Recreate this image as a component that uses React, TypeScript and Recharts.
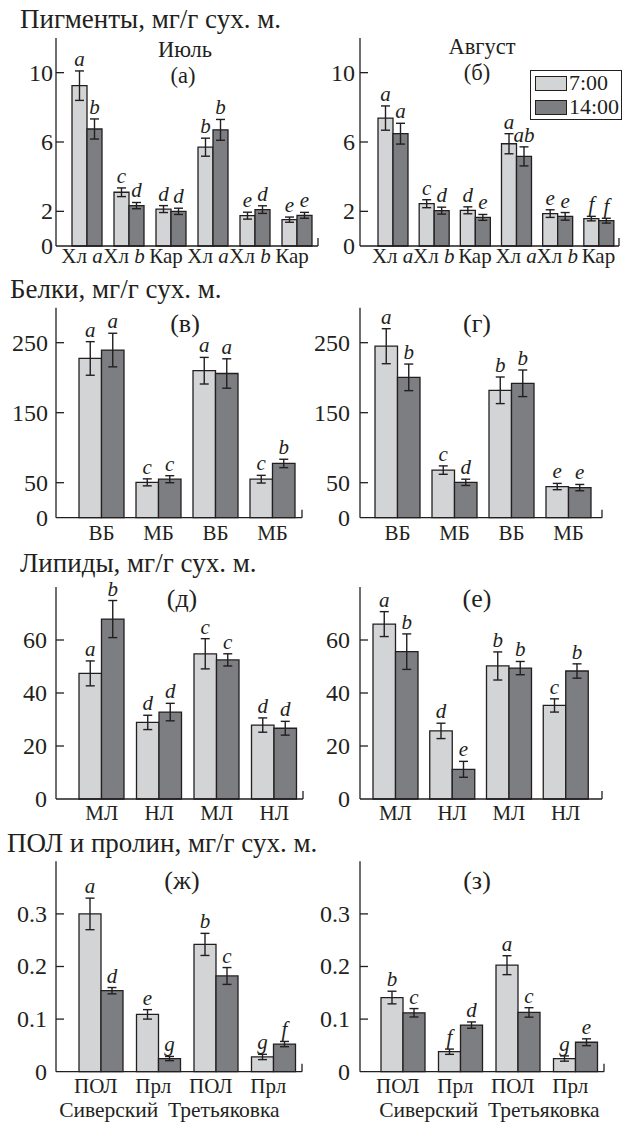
import React from 'react';
import { BarChart, Bar, XAxis, YAxis, ErrorBar, LabelList, Legend } from 'recharts';

const FONT = '"Liberation Serif", "Times New Roman", serif';
const LIGHT = '#d3d4d6';
const DARK = '#7d7e81';
const INK = '#231f20';

const seriesNames = ['7:00', '14:00'];

// Pigments, mg/g dry weight
const pigCats = ['Хл a', 'Хл b', 'Кар', 'Хл a', 'Хл b', 'Кар'];
const pigTicks = [0, 2, 6, 10];
const julPig7 = [9.25, 3.1, 2.13, 5.7, 1.75, 1.52];
const julPig7Err = [0.85, 0.25, 0.2, 0.52, 0.2, 0.15];
const julPig14 = [6.75, 2.33, 2.0, 6.7, 2.1, 1.77];
const julPig14Err = [0.58, 0.18, 0.18, 0.6, 0.22, 0.17];
const julPig7Sig = ['a', 'c', 'd', 'b', 'e', 'e'];
const julPig14Sig = ['b', 'd', 'd', 'b', 'd', 'e'];
const augPig7 = [7.38, 2.44, 2.06, 5.9, 1.87, 1.58];
const augPig7Err = [0.7, 0.23, 0.2, 0.58, 0.22, 0.13];
const augPig14 = [6.48, 2.04, 1.65, 5.17, 1.71, 1.46];
const augPig14Err = [0.6, 0.2, 0.17, 0.55, 0.22, 0.14];
const augPig7Sig = ['a', 'c', 'd', 'a', 'e', 'f'];
const augPig14Sig = ['a', 'd', 'e', 'ab', 'e', 'f'];

// Proteins
const protCats = ['ВБ', 'МБ', 'ВБ', 'МБ'];
const protTicks = [0, 50, 150, 250];
const julProt7 = [227.5, 50.5, 210, 55];
const julProt7Err = [24, 5, 19, 5.5];
const julProt14 = [239.5, 55, 206, 77.5];
const julProt14Err = [24, 5, 21, 6];
const julProt7Sig = ['a', 'c', 'a', 'c'];
const julProt14Sig = ['a', 'c', 'a', 'b'];
const augProt7 = [245, 68, 182, 44.5];
const augProt7Err = [25, 6, 19, 4.5];
const augProt14 = [200.5, 50.5, 192, 43];
const augProt14Err = [19, 4.5, 19, 4.5];
const augProt7Sig = ['a', 'c', 'b', 'e'];
const augProt14Sig = ['b', 'd', 'b', 'e'];

// Lipids
const lipCats = ['МЛ', 'НЛ', 'МЛ', 'НЛ'];
const lipTicks = [0, 20, 40, 60];
const julLip7 = [47.4, 28.9, 54.8, 27.9];
const julLip7Err = [4.7, 2.7, 5.7, 2.7];
const julLip14 = [67.9, 32.8, 52.5, 26.7];
const julLip14Err = [7, 3.3, 2.3, 2.6];
const julLip7Sig = ['a', 'd', 'c', 'd'];
const julLip14Sig = ['b', 'd', 'c', 'd'];
const augLip7 = [66, 25.7, 50.2, 35.3];
const augLip7Err = [4.7, 2.9, 5.3, 2.5];
const augLip14 = [55.6, 11.2, 49.4, 48.3];
const augLip14Err = [6.7, 3, 2.5, 2.7];
const augLip7Sig = ['a', 'd', 'b', 'c'];
const augLip14Sig = ['b', 'e', 'b', 'b'];

// LPO and proline
const polCats = ['ПОЛ', 'Прл', 'ПОЛ', 'Прл'];
const polSites = ['Сиверский', 'Третьяковка'];
const polTicks = [0, 0.1, 0.2, 0.3];
const julPol7 = [0.3, 0.109, 0.242, 0.028];
const julPol7Err = [0.03, 0.009, 0.021, 0.005];
const julPol14 = [0.154, 0.025, 0.182, 0.0525];
const julPol14Err = [0.006, 0.004, 0.016, 0.005];
const julPol7Sig = ['a', 'e', 'b', 'g'];
const julPol14Sig = ['d', 'g', 'c', 'f'];
const augPol7 = [0.141, 0.038, 0.2025, 0.025];
const augPol7Err = [0.012, 0.005, 0.018, 0.005];
const augPol14 = [0.112, 0.0886, 0.1127, 0.056];
const augPol14Err = [0.008, 0.006, 0.009, 0.0065];
const augPol7Sig = ['b', 'f', 'a', 'g'];
const augPol14Sig = ['c', 'd', 'c', 'e'];

const rows = (cats: string[], m: number[], me: number[], d: number[], de: number[]) =>
  cats.map((name, i) => ({ name, idx: i, m: m[i], me: me[i], d: d[i], de: de[i] }));

const YTick = (props: any) => {
  const { x, y, payload, gap, fs } = props;
  return (
    <g>
      {payload.value !== 0 && <line x1={x} x2={x + 8} y1={y} y2={y} stroke={INK} strokeWidth={1.3} />}
      <text x={x - gap} y={y + fs * 0.33} textAnchor="end" fontFamily={FONT} fontSize={fs} fill={INK}>
        {String(payload.value)}
      </text>
    </g>
  );
};

const XTick = (props: any) => {
  const { x, y, payload, index, dy, shift, sub, subDy, subShift } = props;
  const parts = String(payload.value).split(' ');
  return (
    <g>
      <text x={x + shift} y={y + dy} textAnchor="middle" fontFamily={FONT} fontSize={21} fill={INK}>
        <tspan>{parts.length > 1 ? parts[0] + ' ' : parts[0]}</tspan>
        {parts.length > 1 && <tspan fontStyle="italic">{parts[1]}</tspan>}
      </text>
      {sub && index % 2 === 0 && (
        <text x={x + subShift} y={y + subDy} textAnchor="middle" fontFamily={FONT} fontSize={21.5} fill={INK}>
          {sub[index / 2]}
        </text>
      )}
    </g>
  );
};

// small upward tick at the right end of the x axis
const EndTick = (props: any) => {
  const vb = props.viewBox;
  if (!vb) return null;
  const xe = vb.x + vb.width;
  return <line x1={xe} x2={xe} y1={vb.y} y2={vb.y - 8} stroke={INK} strokeWidth={1.3} />;
};

const sigLabel = (letters: string[], values: number[], errs: number[]) => (props: any) => {
  const i = props.index ?? props.value;
  const v = values[i];
  if (!v) return null;
  const ppu = Number(props.height) / v;
  const top = Number(props.y) - errs[i] * ppu;
  return (
    <text x={Number(props.x) + Number(props.width) / 2} y={top - 5} textAnchor="middle"
      fontFamily={FONT} fontStyle="italic" fontSize={21} fill={INK}>
      {letters[i]}
    </text>
  );
};

const LegendBox = (props: any) => {
  const items = [...(props.payload || [])].sort(
    (a: any, b: any) => seriesNames.indexOf(a.value) - seriesNames.indexOf(b.value));
  return (
    <div style={{ border: `1.5px solid ${INK}`, width: 92, height: 50, boxSizing: 'border-box',
      fontFamily: FONT, fontSize: 22, color: INK, background: '#fff' }}>
      {items.map((it: any) => (
        <div key={it.value} style={{ display: 'flex', alignItems: 'center', height: 24, lineHeight: '24px' }}>
          <span style={{ display: 'inline-block', width: 32, height: 15, marginLeft: 4, marginRight: 2,
            background: it.color, border: `1.3px solid ${INK}`, boxSizing: 'border-box' }} />
          <span>{it.value}</span>
        </div>
      ))}
    </div>
  );
};

const Panel = (p: any) => {
  const { box, plot } = p;
  const data = rows(p.cats, p.m, p.me, p.d, p.de);
  return (
    <div style={{ position: 'absolute', left: box.left, top: box.top }}>
      <BarChart width={box.width} height={box.height} data={data} barGap={0} barSize={p.barSize}
        margin={{ top: plot.T - box.top, right: box.left + box.width - plot.R, bottom: 0, left: 0 }}>
        <XAxis dataKey="name" interval={0} height={box.top + box.height - plot.B}
          padding={{ left: p.padL, right: p.padR }} tickSize={0} tickMargin={0}
          axisLine={{ stroke: INK, strokeWidth: 1.3 }} tickLine={false}
          tick={<XTick dy={p.xDy} shift={p.xShift || 0} sub={p.sub} subDy={p.subDy} subShift={p.subShift} />}
          label={{ content: (lp: any) => <EndTick {...lp} /> }} />
        <YAxis type="number" domain={p.domain} ticks={p.ticks} interval={0} width={plot.L - box.left}
          tickSize={0} tickMargin={0} tickLine={false} axisLine={{ stroke: INK, strokeWidth: 1.3 }}
          tick={<YTick gap={p.yGap} fs={24} />} />
        {p.legend && (
          <Legend layout="vertical" align="center" verticalAlign="middle" content={<LegendBox />}
            wrapperStyle={{ position: 'absolute', left: p.legend.left, top: p.legend.top, width: 92 }} />
        )}
        <Bar dataKey="m" name={seriesNames[0]} fill={LIGHT} stroke={INK} strokeWidth={1.3} isAnimationActive={false}>
          <ErrorBar dataKey="me" width={4.5} stroke={INK} strokeWidth={1.4} isAnimationActive={false} />
          <LabelList dataKey="idx" content={sigLabel(p.lm, p.m, p.me)} />
        </Bar>
        <Bar dataKey="d" name={seriesNames[1]} fill={DARK} stroke={INK} strokeWidth={1.3} isAnimationActive={false}>
          <ErrorBar dataKey="de" width={4.5} stroke={INK} strokeWidth={1.4} isAnimationActive={false} />
          <LabelList dataKey="idx" content={sigLabel(p.ld, p.d, p.de)} />
        </Bar>
      </BarChart>
    </div>
  );
};

const T = (props: any) => (
  <text fontFamily={FONT} fontSize={27} fill={INK} {...props} />
);

export default function App() {
  const topPlot = { T: 38, B: 246 };
  const protPlot = { T: 307.7, B: 517.7 };
  const lipPlot = { T: 587, B: 799 };
  const polPlot = { T: 861.3, B: 1071.7 };
  return (
    <div style={{ position: 'absolute', left: 0, top: 0, width: 624, height: 1124, background: '#fff', overflow: 'hidden' }}>
      <Panel box={{ left: 0, top: 0, width: 320, height: 275 }} plot={{ L: 56, R: 318, ...topPlot }}
        cats={pigCats} m={julPig7} me={julPig7Err} d={julPig14} de={julPig14Err} lm={julPig7Sig} ld={julPig14Sig}
        domain={[0, 12]} ticks={pigTicks} padL={10} padR={0} barSize={15} yGap={3} xDy={17} xShift={-5} />
      <Panel box={{ left: 300, top: 0, width: 324, height: 275 }} plot={{ L: 360, R: 619, ...topPlot }}
        cats={pigCats} m={augPig7} me={augPig7Err} d={augPig14} de={augPig14Err} lm={augPig7Sig} ld={augPig14Sig}
        domain={[0, 12]} ticks={pigTicks} padL={12} padR={0} barSize={15} yGap={5} xDy={17} xShift={0}
        legend={{ left: 230, top: 70 }} />

      <Panel box={{ left: 0, top: 275, width: 320, height: 280 }} plot={{ L: 56, R: 302, ...protPlot }}
        cats={protCats} m={julProt7} me={julProt7Err} d={julProt14} de={julProt14Err} lm={julProt7Sig} ld={julProt14Sig}
        domain={[0, 300]} ticks={protTicks} padL={17} padR={1} barSize={22.5} yGap={8} xDy={22} />
      <Panel box={{ left: 300, top: 275, width: 324, height: 280 }} plot={{ L: 360, R: 602, ...protPlot }}
        cats={protCats} m={augProt7} me={augProt7Err} d={augProt14} de={augProt14Err} lm={augProt7Sig} ld={augProt14Sig}
        domain={[0, 300]} ticks={protTicks} padL={9} padR={5} barSize={22.5} yGap={10} xDy={22} />

      <Panel box={{ left: 0, top: 555, width: 320, height: 280 }} plot={{ L: 56, R: 303, ...lipPlot }}
        cats={lipCats} m={julLip7} me={julLip7Err} d={julLip14} de={julLip14Err} lm={julLip7Sig} ld={julLip14Sig}
        domain={[0, 80]} ticks={lipTicks} padL={17} padR={0} barSize={22.5} yGap={9} xDy={21} />
      <Panel box={{ left: 300, top: 555, width: 324, height: 280 }} plot={{ L: 360, R: 602, ...lipPlot }}
        cats={lipCats} m={augLip7} me={augLip7Err} d={augLip14} de={augLip14Err} lm={augLip7Sig} ld={augLip14Sig}
        domain={[0, 80]} ticks={lipTicks} padL={7} padR={8} barSize={22.5} yGap={10} xDy={21} />

      <Panel box={{ left: 0, top: 835, width: 320, height: 289 }} plot={{ L: 56, R: 302, ...polPlot }}
        cats={polCats} m={julPol7} me={julPol7Err} d={julPol14} de={julPol14Err} lm={julPol7Sig} ld={julPol14Sig}
        domain={[0, 0.4]} ticks={polTicks} padL={16} padR={0} barSize={22} yGap={9} xDy={21.5} xShift={-5}
        sub={polSites} subDy={45} subShift={8} />
      <Panel box={{ left: 300, top: 835, width: 324, height: 289 }} plot={{ L: 360, R: 604, ...polPlot }}
        cats={polCats} m={augPol7} me={augPol7Err} d={augPol14} de={augPol14Err} lm={augPol7Sig} ld={augPol14Sig}
        domain={[0, 0.4]} ticks={polTicks} padL={14} padR={0} barSize={22} yGap={10} xDy={21.5} xShift={-5}
        sub={polSites} subDy={45} subShift={26} />

      <svg width={624} height={1124} style={{ position: 'absolute', left: 0, top: 0, pointerEvents: 'none' }}>
        <T x={20} y={28}>Пигменты, мг/г сух. м.</T>
        <T x={185} y={57} fontSize={22.5} textAnchor="middle">Июль</T>
        <T x={183} y={83} fontSize={22.5} textAnchor="middle">(а)</T>
        <T x={482} y={54} fontSize={22.5} textAnchor="middle">Август</T>
        <T x={477} y={80} fontSize={22.5} textAnchor="middle">(б)</T>
        <T x={10} y={298}>Белки, мг/г сух. м.</T>
        <T x={185} y={332} fontSize={26} textAnchor="middle">(в)</T>
        <T x={477} y={332} fontSize={26} textAnchor="middle">(г)</T>
        <T x={20} y={572}>Липиды, мг/г сух. м.</T>
        <T x={182} y={607} fontSize={26} textAnchor="middle">(д)</T>
        <T x={477} y={607} fontSize={26} textAnchor="middle">(е)</T>
        <T x={7} y={852}>ПОЛ и пролин, мг/г сух. м.</T>
        <T x={182} y={889} fontSize={26} textAnchor="middle">(ж)</T>
        <T x={477} y={889} fontSize={26} textAnchor="middle">(з)</T>
      </svg>
    </div>
  );
}
